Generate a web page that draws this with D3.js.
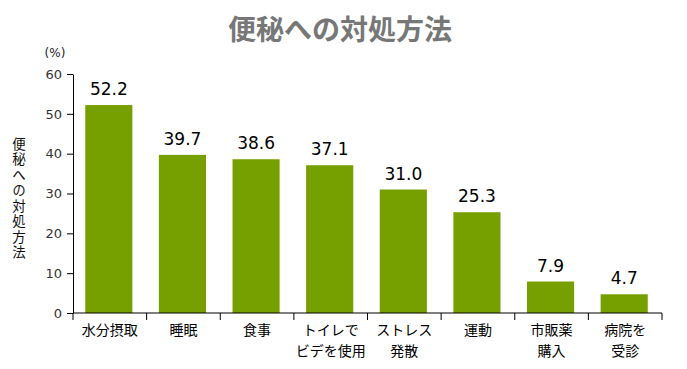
<!DOCTYPE html>
<html>
<head>
<meta charset="utf-8">
<script src="https://cdn.jsdelivr.net/npm/d3@7"></script>
<style>
  body { margin: 0; background: #fff; }
  svg { display: block; }
</style>
</head>
<body>
<script>
// data
var categories = ["水分摂取", "睡眠", "食事", "トイレで\nビデを使用", "ストレス\n発散", "運動", "市販薬\n購入", "病院を\n受診"];
var values = [52.2, 39.7, 38.6, 37.1, 31.0, 25.3, 7.9, 4.7];
var yTicks = [0, 10, 20, 30, 40, 50, 60];
var title = "便秘への対処方法";
var yTitle = "便秘への対処方法";

var W = 687, H = 369;
var margin = { top: 74, right: 25, bottom: 56, left: 73 },
    width = W - margin.left - margin.right,
    height = H - margin.top - margin.bottom;

var cjk = "'Noto Sans CJK JP', 'Noto Sans', sans-serif";

var svg = d3.select("body").append("svg")
    .attr("width", W)
    .attr("height", H);

var g = svg.append("g")
    .attr("transform", "translate(" + margin.left + "," + margin.top + ")");

var x = d3.scaleBand().domain(d3.range(categories.length)).range([0, width]);
var y = d3.scaleLinear().domain([0, 60]).range([height, 0]);
var barW = x.bandwidth() * 0.64;

// title
svg.append("text")
    .attr("x", 340)
    .attr("y", 40)
    .attr("text-anchor", "middle")
    .attr("font-family", cjk)
    .attr("font-weight", "bold")
    .attr("font-size", 28)
    .attr("fill", "#777")
    .text(title);

// (%) unit
svg.append("text")
    .attr("x", 55)
    .attr("y", 57)
    .attr("text-anchor", "middle")
    .attr("font-family", "'DejaVu Sans', sans-serif")
    .attr("font-size", 12)
    .attr("fill", "#222")
    .text("(%)");

// vertical y title
svg.append("text")
    .attr("x", 19)
    .attr("y", 137)
    .style("writing-mode", "vertical-rl")
    .style("letter-spacing", "2px")
    .attr("font-family", cjk)
    .attr("font-size", 13.5)
    .attr("fill", "#111")
    .text(yTitle);

// bars
g.selectAll("rect.bar")
    .data(values)
    .enter().append("rect")
    .attr("class", "bar")
    .attr("x", function(d, i) { return x(i) + (x.bandwidth() - barW) / 2 - 1; })
    .attr("y", function(d) { return y(d); })
    .attr("width", barW)
    .attr("height", function(d) { return height - y(d); })
    .attr("fill", "#76a000");

// value labels
g.selectAll("text.val")
    .data(values)
    .enter().append("text")
    .attr("class", "val")
    .attr("x", function(d, i) { return x(i) + x.bandwidth() / 2 - 1; })
    .attr("y", function(d) { return y(d) - 10; })
    .attr("text-anchor", "middle")
    .attr("font-family", "'DejaVu Sans', sans-serif")
    .attr("font-size", 17)
    .attr("fill", "#000")
    .text(function(d) { return d.toFixed(1); });

// y axis
var yAxis = g.append("g")
    .call(d3.axisLeft(y).tickValues(yTicks).tickSize(6).tickSizeOuter(0).tickPadding(5));
yAxis.select(".domain").attr("stroke", "#000");
yAxis.selectAll(".tick line").attr("stroke", "#000");
yAxis.selectAll(".tick text")
    .attr("font-family", "'DejaVu Sans', sans-serif")
    .attr("font-size", 13)
    .attr("fill", "#333");

// x axis: ticks at band edges
var xg = g.append("g").attr("transform", "translate(0," + height + ")");
xg.append("line")
    .attr("x1", 0).attr("x2", width)
    .attr("stroke", "#000");
xg.selectAll("line.tk")
    .data(d3.range(categories.length + 1))
    .enter().append("line")
    .attr("class", "tk")
    .attr("x1", function(i) { return i < categories.length ? x(i) : width; })
    .attr("x2", function(i) { return i < categories.length ? x(i) : width; })
    .attr("y1", 0).attr("y2", 7)
    .attr("stroke", "#000");

// category labels, one text per line
categories.forEach(function(c, i) {
    c.split("\n").forEach(function(line, j) {
        xg.append("text")
            .attr("x", x(i) + x.bandwidth() / 2)
            .attr("y", 22 + j * 20.5)
            .attr("text-anchor", "middle")
            .attr("font-family", cjk)
            .attr("font-size", 14)
            .attr("fill", "#000")
            .text(line);
    });
});
</script>
</body>
</html>
